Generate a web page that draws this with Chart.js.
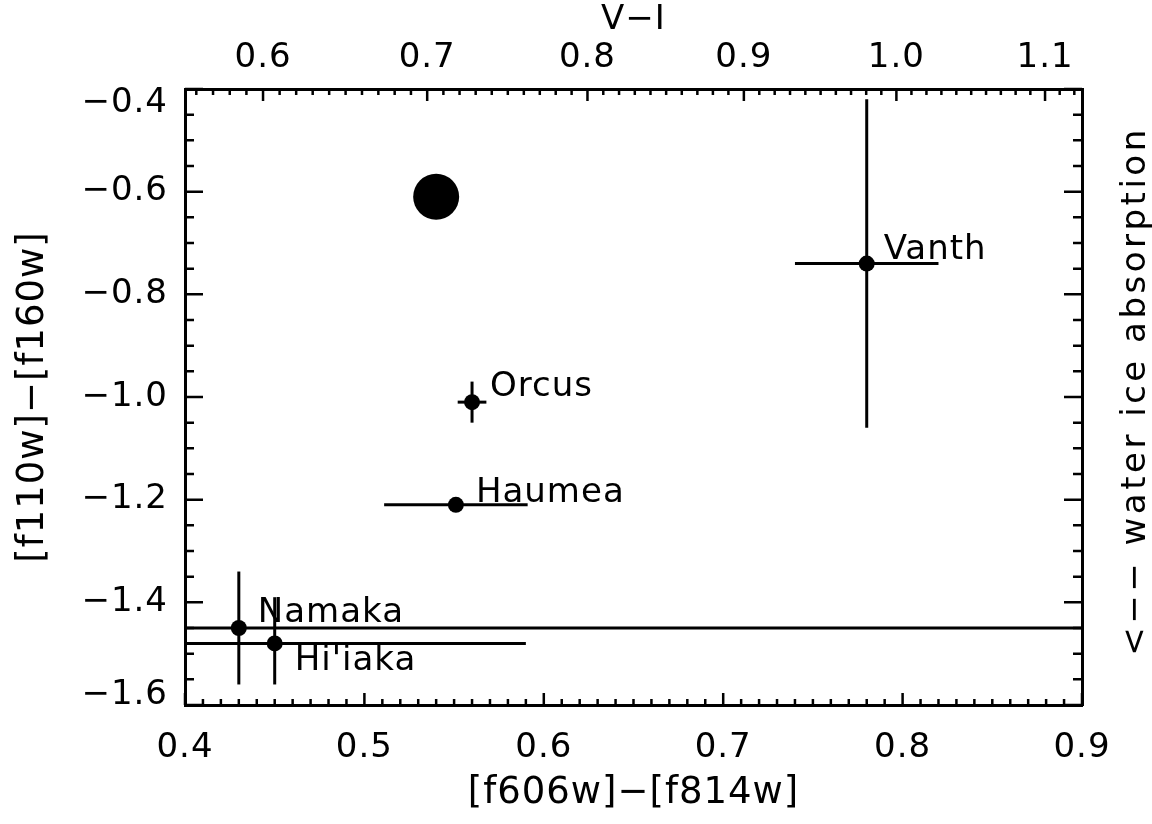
<!DOCTYPE html>
<html>
<head>
<meta charset="utf-8">
<script src="https://cdn.jsdelivr.net/npm/chart.js@4.4.0/dist/chart.umd.min.js"></script>
<style>
  html, body { margin: 0; padding: 0; background: #fff; }
  #wrap { width: 1152px; height: 824px; position: relative; }
</style>
</head>
<body>
<div id="wrap"><canvas id="chart"></canvas></div>
<script>
// measured colours with error bars
const names = ['Vanth', 'Orcus', 'Haumea', 'Namaka', "Hi'iaka"];
const colorX = [0.78, 0.56, 0.551, 0.43, 0.45];       // [f606w]-[f814w]
const colorY = [-0.74, -1.01, -1.21, -1.45, -1.48];   // [f110w]-[f160w]
const errX = [0.04, 0.008, 0.04, 0.5, 0.14];
const errYLow = [0.32, 0.04, 0, 0.11, 0.08];
const errYHigh = [0.32, 0.04, 0, 0.11, 0.09];

// the big unlabeled dot
const bigX = [0.54];
const bigY = [-0.61];

// top axis (V-I)
const viMajor = [0.6, 0.7, 0.8, 0.9, 1.0, 1.1];
const viLabels = ['0.6', '0.7', '0.8', '0.9', '1.0', '1.1'];

const FONT = '"DejaVu Sans", sans-serif';
const FONT_SIZE = 34;

// V-I -> [f606w]-[f814w], so the top axis can sit on the bottom scale
function viToF(v) {
    const u = v - 0.85;
    return 0.6682 + 0.8718 * u - 0.108 * u * u;
}

// where each name sits relative to its point (cap centre)
const LABEL_SHIFT = {
    'Vanth': [17, -17],
    'Orcus': [18, -18],
    'Haumea': [20, -15],
    'Namaka': [19, -18],
    "Hi'iaka": [20, 15]
};

const fmt = v => (v < -1e-9 ? '\u2212' : '') + Math.abs(v).toFixed(1);
const near = (a, b) => Math.abs(a - b) < 1e-6;

// end labels of the y axis are pulled inside the frame, like IDL does:
// done with an empty second line and a reduced line height
const yLabel = v => {
    if (near(v, -0.4)) return ['', fmt(v)];
    if (near(v, -1.6)) return [fmt(v), ''];
    return fmt(v);
};
const yTickFont = c => {
    const v = c.tick ? c.tick.value : 0;
    let lh = 1.2;
    if (near(v, -0.4)) lh = 28 / FONT_SIZE;
    if (near(v, -1.6)) lh = 20 / FONT_SIZE;
    return { family: FONT, size: FONT_SIZE, lineHeight: lh };
};

// error bars as two-point line segments
const errorSets = [];
names.forEach((n, i) => {
    errorSets.push([
        { x: colorX[i] - errX[i], y: colorY[i] },
        { x: colorX[i] + errX[i], y: colorY[i] }
    ]);
    if (errYLow[i] || errYHigh[i]) {
        errorSets.push([
            { x: colorX[i], y: colorY[i] - errYLow[i] },
            { x: colorX[i], y: colorY[i] + errYHigh[i] }
        ]);
    }
});

// IDL-ish text is a little wider than DejaVu
const spacing = {
    id: 'spacing',
    beforeDraw(chart) {
        chart.ctx.letterSpacing = '1px';
    }
};

// inward tick marks on all four sides
const frameTicks = {
    id: 'frameTicks',
    afterDraw(chart) {
        const { ctx, chartArea: a, scales: { x, y } } = chart;
        ctx.save();
        ctx.strokeStyle = '#000';
        ctx.lineWidth = 2.5;
        ctx.beginPath();
        for (let i = 40; i <= 90; i++) {
            const px = x.getPixelForValue(i / 100);
            const len = i % 10 === 0 ? 12 : 6;
            ctx.moveTo(px, a.bottom);
            ctx.lineTo(px, a.bottom - len);
        }
        for (let i = 56; i <= 112; i++) {
            const px = x.getPixelForValue(viToF(i / 100));
            const len = i % 10 === 0 ? 12 : 6;
            ctx.moveTo(px, a.top);
            ctx.lineTo(px, a.top + len);
        }
        for (let i = -32; i <= -8; i++) {
            const py = y.getPixelForValue(i / 20);
            const len = i % 4 === 0 ? 18 : 9;
            ctx.moveTo(a.left, py);
            ctx.lineTo(a.left + len, py);
            ctx.moveTo(a.right, py);
            ctx.lineTo(a.right - len, py);
        }
        ctx.stroke();
        ctx.restore();
    }
};

// object names next to the points
const nameTags = {
    id: 'nameTags',
    afterDatasetsDraw(chart) {
        const ctx = chart.ctx;
        const meta = chart.getDatasetMeta(0);
        ctx.save();
        ctx.font = `${FONT_SIZE}px ${FONT}`;
        ctx.fillStyle = '#000';
        ctx.textAlign = 'left';
        ctx.textBaseline = 'alphabetic';
        meta.data.forEach((pt, i) => {
            const [dx, dy] = LABEL_SHIFT[names[i]];
            ctx.fillText(names[i], pt.x + dx, pt.y + dy + 12);
        });
        ctx.restore();
    }
};

// rotated note on the right, reading bottom to top
const sideNote = {
    id: 'sideNote',
    afterDraw(chart) {
        const ctx = chart.ctx;
        ctx.save();
        ctx.translate(1145, 391);
        ctx.rotate(-Math.PI / 2);
        ctx.font = `${FONT_SIZE}px ${FONT}`;
        ctx.letterSpacing = '3.5px';
        ctx.fillStyle = '#000';
        ctx.textAlign = 'center';
        ctx.textBaseline = 'alphabetic';
        ctx.fillText('<\u2212\u2212 water ice absorption', 0, 0);
        ctx.restore();
    }
};

const tickFont = { family: FONT, size: FONT_SIZE };
const titleFont = { family: FONT, size: 37 };
const border = { display: true, color: '#000', width: 3 };
const noGrid = { display: false, drawTicks: false };

new Chart(document.getElementById('chart'), {
    type: 'scatter',
    data: {
        datasets: [
            {
                data: names.map((n, i) => ({ x: colorX[i], y: colorY[i] })),
                pointRadius: 8,
                pointHoverRadius: 8,
                backgroundColor: '#000',
                borderWidth: 0,
                xAxisID: 'x',
                yAxisID: 'y'
            },
            {
                data: bigX.map((v, i) => ({ x: v, y: bigY[i] })),
                pointRadius: 23,
                pointHoverRadius: 23,
                backgroundColor: '#000',
                borderWidth: 0,
                xAxisID: 'x',
                yAxisID: 'y'
            },
            ...errorSets.map(seg => ({
                data: seg,
                showLine: true,
                borderColor: '#000',
                borderWidth: 3,
                pointRadius: 0,
                pointHoverRadius: 0,
                xAxisID: 'x',
                yAxisID: 'y'
            }))
        ]
    },
    options: {
        responsive: true,
        maintainAspectRatio: false,
        animation: false,
        events: [],
        layout: { padding: 0 },
        plugins: {
            legend: { display: false },
            tooltip: { enabled: false }
        },
        scales: {
            x: {
                type: 'linear',
                position: 'bottom',
                min: 0.4,
                max: 0.9,
                grid: noGrid,
                border: border,
                ticks: {
                    stepSize: 0.1,
                    autoSkip: false,
                    maxRotation: 0,
                    padding: 23,
                    color: '#000',
                    font: tickFont,
                    callback: v => v.toFixed(1)
                },
                title: {
                    display: true,
                    text: '[f606w]\u2212[f814w]',
                    color: '#000',
                    font: titleFont,
                    padding: { top: 0, bottom: 8 }
                },
                afterFit: s => { s.height = 119; }
            },
            xTop: {
                type: 'linear',
                position: 'top',
                min: 0.4,
                max: 0.9,
                grid: noGrid,
                border: border,
                afterBuildTicks: s => { s.ticks = viMajor.map(v => ({ value: viToF(v) })); },
                ticks: {
                    autoSkip: false,
                    maxRotation: 0,
                    padding: 10,
                    color: '#000',
                    font: tickFont,
                    callback: (v, i) => viLabels[i]
                },
                title: {
                    display: true,
                    text: 'V\u2212I',
                    color: '#000',
                    font: tickFont,
                    padding: { top: 0, bottom: 0 }
                },
                afterFit: s => { s.height = 89; }
            },
            y: {
                type: 'linear',
                position: 'left',
                min: -1.6,
                max: -0.4,
                grid: noGrid,
                border: border,
                ticks: {
                    stepSize: 0.2,
                    autoSkip: false,
                    padding: 17,
                    color: '#000',
                    font: yTickFont,
                    callback: yLabel
                },
                title: {
                    display: true,
                    text: '[f110w]\u2212[f160w]',
                    color: '#000',
                    font: titleFont,
                    padding: { top: 11, bottom: 0 }
                },
                afterFit: s => { s.width = 185; }
            },
            yRight: {
                type: 'linear',
                position: 'right',
                min: -1.6,
                max: -0.4,
                grid: noGrid,
                border: border,
                ticks: { display: false },
                afterFit: s => { s.width = 70; }
            }
        }
    },
    plugins: [spacing, frameTicks, nameTags, sideNote]
});
</script>
</body>
</html>
